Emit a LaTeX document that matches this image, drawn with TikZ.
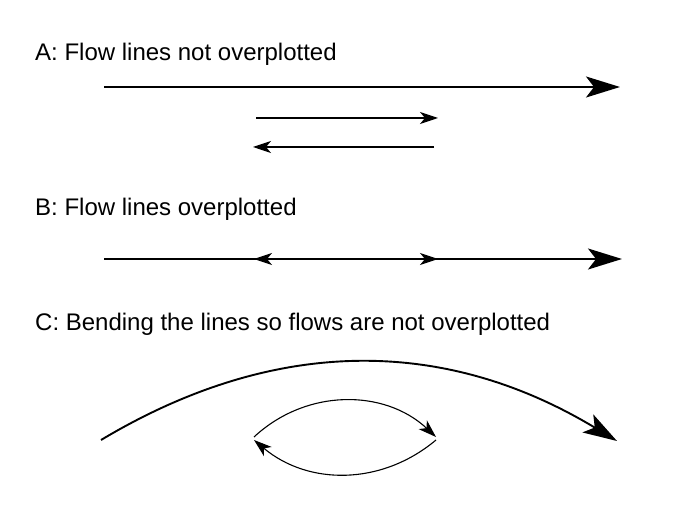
\documentclass[tikz,border=0pt]{standalone}
\usepackage{fontspec}
\setmainfont{Liberation Sans}
\usetikzlibrary{arrows.meta, positioning}
\newcommand{\labelsize}{\fontsize{24}{28}\selectfont}
\tikzset{
  bigtip/.tip={Stealth[length=34pt,width=21pt,inset=8pt]},
  smalltip/.tip={Stealth[length=18pt,width=12pt,inset=5pt]}
}
\tikzstyle{caption} = [% the heading above each case
  anchor=base west,
  inner sep=0pt,
  font=\labelsize
  ]
\tikzstyle{bigflow} = [% the long flow line
  line width=1.9pt,
  -bigtip
  ]
\tikzstyle{smallflow} = [% the short flow lines
  line width=1.1pt,
  -smalltip
  ]

\begin{document}
\begin{tikzpicture}[x=1pt, y=1pt]
\useasboundingbox (0,0) rectangle (680,509);

%%% Nodes
\node[caption] (capA) at (35,448) {A: Flow lines not overplotted};
\node[caption] (capB) at (35,293) {B: Flow lines overplotted};
\node[caption] (capC) at (35,178) {C: Bending the lines so flows are not overplotted};

\coordinate (a1) at (104,422);
\coordinate (a2) at (620,422);
\coordinate (a3) at (256,391);
\coordinate (a4) at (438,391);
\coordinate (a5) at (434,362);
\coordinate (a6) at (253,362);

\coordinate (b1) at (104,250);
\coordinate (b2) at (622,250);
\coordinate (b3) at (254,250);
\coordinate (b4) at (438,250);

\coordinate (c1) at (101,69);
\coordinate (c2) at (617,68);
\coordinate (c3) at (254,72);
\coordinate (c4) at (436,72);
\coordinate (c5) at (436,69);
\coordinate (c6) at (254,69);

%%% A
\draw[bigflow] (a1) -- (a2);
\draw[smallflow] (a3) -- (a4);
\draw[smallflow] (a5) -- (a6);

%%% B
\draw[bigflow] (b1) -- (b2);
\draw[smallflow] (b4) -- (b3);
\draw[smallflow] (b3) -- (b4);

%%% C
\draw[bigflow] (c1) to[bend left=31] (c2);
\draw[smallflow] (c3) to[bend left=43] (c4);
\draw[smallflow] (c5) to[bend left=40] (c6);

\end{tikzpicture}
\end{document}
